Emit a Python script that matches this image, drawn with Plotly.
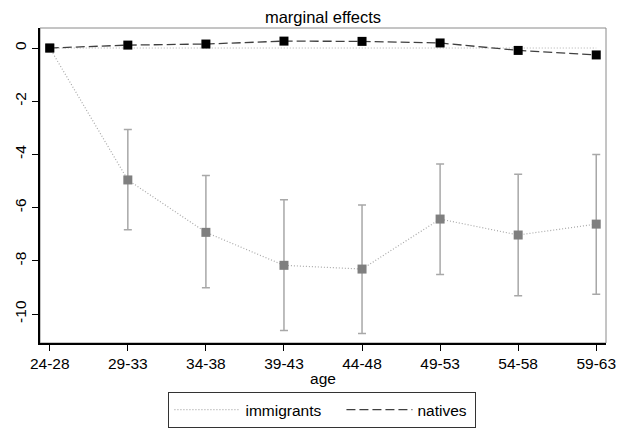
import plotly.graph_objects as go

categories = ["24-28", "29-33", "34-38", "39-43", "44-48", "49-53", "54-58", "59-63"]
immigrants = [0, -4.96, -6.93, -8.17, -8.31, -6.43, -7.03, -6.62]
imm_upper = [0, -3.06, -4.79, -5.70, -5.90, -4.36, -4.75, -4.00]
imm_lower = [0, -6.83, -9.01, -10.62, -10.73, -8.51, -9.31, -9.26]
natives = [0, 0.11, 0.15, 0.26, 0.25, 0.19, -0.09, -0.26]
zero_ref = [0, 0, 0, 0, 0, 0, 0, 0]
yticks = [0, -2, -4, -6, -8, -10]

xs = list(range(len(categories)))
err_plus = [u - v for u, v in zip(imm_upper, immigrants)]
err_minus = [v - l for v, l in zip(immigrants, imm_lower)]

FONT = "Liberation Sans, Arial, sans-serif"
IMM_LINE = dict(color="#a8a8a8", width=1.2, dash="1px,2px")
NAT_LINE = dict(color="#404040", width=1.3, dash="9px,4px")

fig = go.Figure()
fig.add_trace(go.Scatter(
    x=xs, y=zero_ref, mode="lines", showlegend=False, hoverinfo="skip",
    line=dict(color="#b0b0b0", width=1, dash="1px,2px"),
))
fig.add_trace(go.Scatter(
    x=xs, y=immigrants, mode="lines+markers", name="immigrants", showlegend=False,
    line=IMM_LINE,
    marker=dict(symbol="square", size=9, color="#7f7f7f"),
    error_y=dict(type="data", symmetric=False, array=err_plus, arrayminus=err_minus,
                 color="#a8a8a8", thickness=1.5, width=4),
))
fig.add_trace(go.Scatter(
    x=xs, y=natives, mode="lines+markers", name="natives", showlegend=False,
    line=NAT_LINE,
    marker=dict(symbol="square", size=9, color="#000000"),
))
# legend entries (line samples only, as in the reference)
fig.add_trace(go.Scatter(x=[None], y=[None], mode="lines", name="immigrants",
                         line=IMM_LINE, showlegend=True, legendwidth=91))
fig.add_trace(go.Scatter(x=[None], y=[None], mode="lines", name="natives",
                         line=NAT_LINE, showlegend=True, legendwidth=53))

fig.add_shape(type="rect", xref="paper", yref="paper", x0=0, x1=1, y0=0, y1=1,
              line=dict(color="#8a8a8a", width=1), layer="below")

# page has an 8px body margin, so the figure is sized/offset to compensate
fig.update_layout(
    width=623, height=420,
    margin=dict(l=31.5, r=25.3, t=20.3, b=85, autoexpand=False),
    paper_bgcolor="white", plot_bgcolor="white",
    font=dict(family=FONT, size=15.5, color="black"),
    title=dict(text="marginal effects", x=0.5, xanchor="center", xref="paper",
               y=0.977, yanchor="middle", font=dict(size=16.5, family=FONT, color="black")),
    showlegend=True,
    legend=dict(orientation="h", x=0.499, xanchor="center", y=-0.1557, yanchor="top",
                bordercolor="#333333", borderwidth=1, bgcolor="white",
                font=dict(size=15.5, family=FONT), itemwidth=66,
                traceorder="normal"),
    xaxis=dict(
        range=[-0.125, 7.125], tickmode="array", tickvals=xs, ticktext=categories,
        showgrid=False, zeroline=False, showline=True, linecolor="black", linewidth=1.5,
        ticks="outside", ticklen=6, tickcolor="black", tickwidth=1, automargin=False,
        tickfont=dict(size=15.5, family=FONT),
        title=dict(text="age", font=dict(size=15.5, family=FONT), standoff=2),
    ),
    yaxis=dict(
        range=[-11.09, 0.753], tickmode="array", tickvals=yticks,
        ticktext=[str(t) for t in yticks], automargin=False,
        showgrid=False, zeroline=False, showline=True, linecolor="black", linewidth=1.5,
        ticks="outside", ticklen=6, tickcolor="black", tickwidth=1,
        tickangle=-90, tickfont=dict(size=15.5, family=FONT),
    ),
)

fig.write_html("out.html")
